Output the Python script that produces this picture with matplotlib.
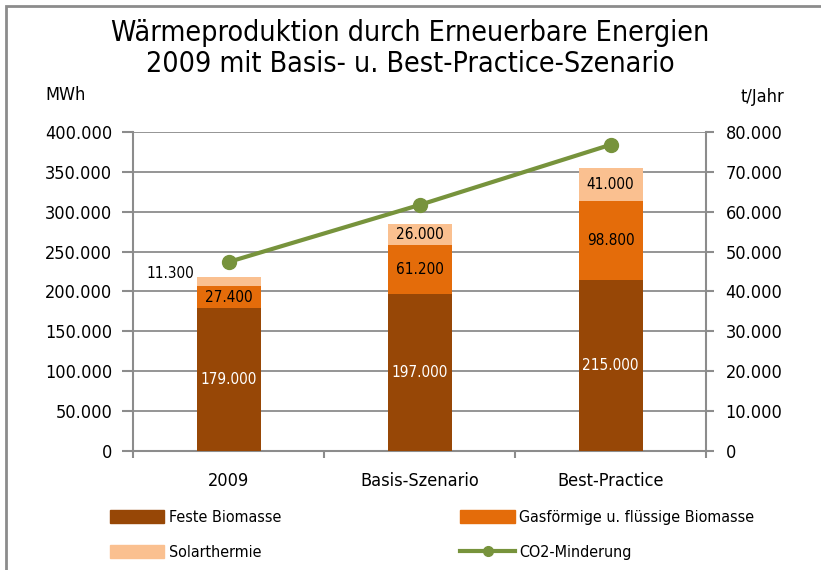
import matplotlib.pyplot as plt
import numpy as np
from matplotlib.patches import Rectangle
from matplotlib.lines import Line2D

categories = ['2009', 'Basis-Szenario', 'Best-Practice']
feste = [179000, 197000, 215000]
gas = [27400, 61200, 98800]
solar = [11300, 26000, 41000]
co2 = [47400, 61700, 76800]

c_feste = '#974706'
c_gas = '#E46C0A'
c_solar = '#FAC090'
c_line = '#77933C'
grey = '#8c8c8c'

plt.rcParams['font.family'] = ['DejaVu Sans']
plt.rcParams['font.stretch'] = 'condensed'


def fmt(v):
    return f'{v:,.0f}'.replace(',', '.')


fig = plt.figure(figsize=(8.21, 5.70), dpi=100)
fig.patches.append(Rectangle((0.007, -0.05), 1.1, 1.04, transform=fig.transFigure,
                             fill=False, edgecolor=grey, linewidth=2))

ax = fig.add_axes([0.162, 0.2088, 0.698, 0.5596])
x = np.arange(len(categories))
w = 0.335
ax.bar(x, feste, w, color=c_feste, zorder=3)
ax.bar(x, gas, w, bottom=feste, color=c_gas, zorder=3)
bot3 = np.array(feste) + np.array(gas)
ax.bar(x, solar, w, bottom=bot3, color=c_solar, zorder=3)

ax.set_xlim(-0.5, 2.5)
ax.set_ylim(0, 400000)
ax.set_yticks(np.arange(0, 400001, 50000))
ax.set_yticklabels([fmt(v) for v in np.arange(0, 400001, 50000)], fontsize=13)
ax.set_xticks(x)
ax.set_xticklabels(categories, fontsize=13)
ax.set_xticks([-0.5, 0.5, 1.5, 2.5], minor=True)
ax.tick_params(axis='x', which='major', length=0, pad=15)
ax.tick_params(axis='x', which='minor', length=5, color=grey, width=1.5)
ax.tick_params(axis='y', length=8, color=grey, width=1.5, pad=7)
ax.grid(axis='y', color=grey, linewidth=1.3, zorder=0)
for s in ['top', 'right']:
    ax.spines[s].set_visible(False)
for s in ['left', 'bottom']:
    ax.spines[s].set_color(grey)
    ax.spines[s].set_linewidth(1.5)

for i in range(3):
    ax.text(x[i], feste[i] / 2, fmt(feste[i]), ha='center', va='center',
            color='white', fontsize=11, zorder=5)
    ax.text(x[i], feste[i] + gas[i] / 2, fmt(gas[i]), ha='center', va='center',
            color='black', fontsize=11, zorder=5)
    if i == 0:
        ax.text(x[i] - w / 2 - 0.01, bot3[i] + solar[i] + 5000, fmt(solar[i]),
                ha='right', va='center', color='black', fontsize=11, zorder=5)
    else:
        ax.text(x[i], bot3[i] + solar[i] / 2, fmt(solar[i]), ha='center', va='center',
                color='black', fontsize=11, zorder=5)

ax2 = ax.twinx()
ax2.plot(x, co2, color=c_line, linewidth=3, marker='o', markersize=10, zorder=6)
ax2.set_ylim(0, 80000)
ax2.set_yticks(np.arange(0, 80001, 10000))
ax2.set_yticklabels([fmt(v) for v in np.arange(0, 80001, 10000)], fontsize=13)
ax2.tick_params(axis='y', length=6, color=grey, width=1.5, pad=8)
for s in ['top', 'left', 'bottom']:
    ax2.spines[s].set_visible(False)
ax2.spines['right'].set_color(grey)
ax2.spines['right'].set_linewidth(1.5)

fig.text(0.5, 0.915, 'Wärmeproduktion durch Erneuerbare Energien\n2009 mit Basis- u. Best-Practice-Szenario',
         ha='center', va='center', fontsize=20.5, linespacing=1.15)
fig.text(0.08, 0.833, 'MWh', ha='center', va='center', fontsize=13)
fig.text(0.928, 0.829, 't/Jahr', ha='center', va='center', fontsize=13)

handles = [Rectangle((0, 0), 1, 1, color=c_feste),
           Rectangle((0, 0), 1, 1, color=c_solar),
           Rectangle((0, 0), 1, 1, color=c_gas),
           Line2D([], [], color=c_line, linewidth=3, marker='o', markersize=7)]
labels = ['Feste Biomasse', 'Solarthermie', 'Gasförmige u. flüssige Biomasse', 'CO2-Minderung']
fig.legend(handles, labels, ncol=2, loc='upper left', bbox_to_anchor=(0.134, 0.105),
           frameon=False, fontsize=11.5, handlelength=3.4, handleheight=0.8,
           handletextpad=0.3, columnspacing=11.2, labelspacing=1.25,
           borderaxespad=0, borderpad=0)

fig.savefig('out.png', dpi=100)
